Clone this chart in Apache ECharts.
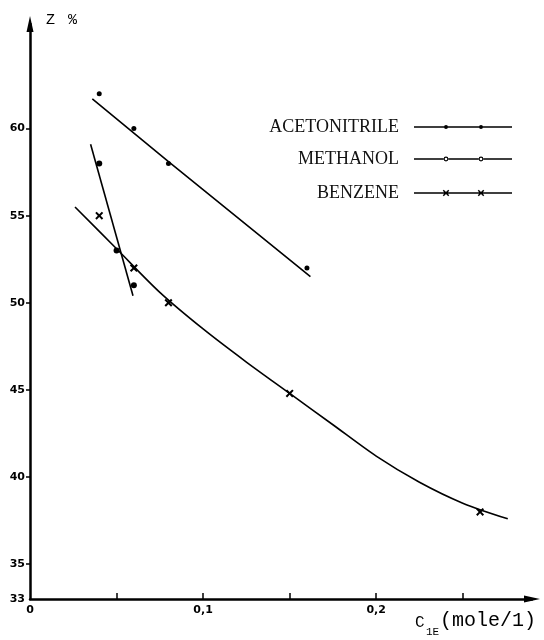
<!DOCTYPE html>
<html>
<head>
<meta charset="utf-8">
<script src="https://cdn.jsdelivr.net/npm/echarts@6/dist/echarts.min.js"></script>
<style>
  html, body { margin: 0; padding: 0; background: #fff; }
  #chart { width: 544px; height: 640px; }
</style>
</head>
<body>
<div id="chart"></div>
<script>
// measured points
const acnX = [0.04, 0.06, 0.08, 0.16]
const acnY = [62, 60, 58, 52]
const meohX = [0.04, 0.05, 0.06]
const meohY = [58, 53, 51]
const bzX = [0.04, 0.06, 0.08, 0.15, 0.26]
const bzY = [55, 52, 50, 44.8, 38]

// hand drawn fit lines
const acnFitX = [0.036, 0.080, 0.162]
const acnFitY = [61.7, 58.1, 51.5]
const meohFitX = [0.035, 0.0595]
const meohFitY = [59.1, 50.4]
const bzFitX = [0.026, 0.05, 0.075, 0.10, 0.125, 0.15, 0.175, 0.20, 0.225, 0.25, 0.276]
const bzFitY = [55.5, 53.1, 50.6, 48.5, 46.6, 44.8, 43.0, 41.2, 39.7, 38.5, 37.6]

// axis ticks
const yLabelValues = [33, 35, 40, 45, 50, 55, 60]
const yTickValues = [35, 40, 45, 50, 55, 60]
const xLabelValues = [0, 0.1, 0.2]
const xLabelTexts = ['0', '0,1', '0,2']
const xTickValues = [0.05, 0.1, 0.15, 0.2, 0.25]

const names = ['ACETONITRILE', 'METHANOL', 'BENZENE']

function pairs(xs, ys) {
  return xs.map((x, i) => [x, ys[i]])
}

// X mark in a 10x10 box, arm offset t, scaled by s and moved
function crossPath(t, s, dx, dy) {
  const pts = [[0, t], [t, 0], [5, 5 - t], [10 - t, 0], [10, t], [5 + t, 5], [10, 10 - t], [10 - t, 10], [5, 5 + t], [t, 10], [0, 10 - t], [5 - t, 5]]
  return 'M' + pts.map(p => (dx + p[0] * s).toFixed(2) + ',' + (dy + p[1] * s).toFixed(2)).join('L') + 'Z'
}
function dot(cx, cy, r, sweep) {
  return 'M' + (cx - r) + ',' + cy + 'A' + r + ',' + r + ',0,1,' + sweep + ',' + (cx + r) + ',' + cy +
    'A' + r + ',' + r + ',0,1,' + sweep + ',' + (cx - r) + ',' + cy + 'Z'
}
function bar(x1, x2) {
  return 'M' + x1 + ',3.2H' + x2 + 'V4.8H' + x1 + 'Z'
}

const crossSymbol = 'path://' + crossPath(1.8, 1, 0, 0)
const legendIcons = [
  'path://' + bar(0, 98) + dot(32, 4, 2, 1) + dot(67, 4, 2, 1),
  'path://' + bar(0, 29.6) + bar(34.4, 64.6) + bar(69.4, 98) +
    dot(32, 4, 2.4, 1) + dot(32, 4, 1.3, 0) + dot(67, 4, 2.4, 1) + dot(67, 4, 1.3, 0),
  'path://' + bar(0, 98) + crossPath(1.6, 0.65, 28.75, 0.75) + crossPath(1.6, 0.65, 63.75, 0.75)
]
const legendTops = [118, 150, 184]

const chart = echarts.init(document.getElementById('chart'))

const lineFit = (name, data, smooth) => ({
  name: name,
  type: 'line',
  data: data,
  symbol: 'none',
  smooth: smooth,
  silent: true,
  lineStyle: { color: '#000', width: 1.6 },
  z: 2
})

chart.setOption({
  animation: false,
  backgroundColor: '#fff',
  grid: { left: 30, right: 12, top: 24, bottom: 41 },
  legend: names.map((n, i) => ({
    data: [{ name: n, icon: legendIcons[i] }],
    right: 32,
    top: legendTops[i],
    align: 'right',
    itemWidth: 98,
    itemHeight: 8,
    padding: 0,
    selectedMode: false,
    textStyle: { fontFamily: 'Liberation Serif', fontSize: 18, color: '#111', padding: [0, 10, 0, 0] }
  })),
  xAxis: {
    type: 'value',
    min: 0,
    max: 0.29,
    splitLine: { show: false },
    axisLine: {
      lineStyle: { color: '#000', width: 2.5 },
      symbol: ['none', 'triangle'],
      symbolSize: [7, 16]
    },
    axisTick: { customValues: xTickValues, inside: true, length: 6, lineStyle: { color: '#000', width: 1.5 } },
    axisLabel: {
      customValues: xLabelValues,
      formatter: v => xLabelTexts[xLabelValues.indexOf(v)],
      margin: 6,
      fontFamily: 'DejaVu Sans',
      fontWeight: 'bold',
      fontSize: 11,
      color: '#000'
    }
  },
  yAxis: {
    type: 'value',
    min: 33,
    max: 66,
    splitLine: { show: false },
    axisLine: {
      lineStyle: { color: '#000', width: 2.5 },
      symbol: ['none', 'triangle'],
      symbolSize: [7, 16]
    },
    axisTick: { customValues: yTickValues, length: 4, lineStyle: { color: '#000', width: 1.5 } },
    axisLabel: {
      customValues: yLabelValues,
      margin: 5,
      fontFamily: 'DejaVu Sans',
      fontWeight: 'bold',
      fontSize: 11,
      color: '#000'
    }
  },
  graphic: [
    { type: 'text', left: 46, top: 13, style: { text: 'Z', font: '15px "Liberation Mono"', fill: '#000' } },
    { type: 'text', left: 68, top: 13, style: { text: '%', font: '15px "Liberation Mono"', fill: '#000' } },
    { type: 'text', left: 415, top: 615, style: { text: 'C', font: '16px "Liberation Mono"', fill: '#000' } },
    { type: 'text', left: 426, top: 627, style: { text: '1E', font: '11px "Liberation Mono"', fill: '#000' } },
    { type: 'text', left: 440, top: 611, style: { text: '(mole/1)', font: '20px "Liberation Mono"', fill: '#000' } }
  ],
  series: [
    lineFit('acn fit', pairs(acnFitX, acnFitY), false),
    lineFit('meoh fit', pairs(meohFitX, meohFitY), false),
    lineFit('bz fit', pairs(bzFitX, bzFitY), 0.3),
    {
      name: names[0],
      type: 'scatter',
      data: pairs(acnX, acnY),
      symbol: 'circle',
      symbolSize: 5,
      itemStyle: { color: '#000', opacity: 1 },
      z: 3
    },
    {
      name: names[1],
      type: 'scatter',
      data: pairs(meohX, meohY),
      symbol: 'circle',
      symbolSize: 6,
      itemStyle: { color: '#000', opacity: 1 },
      z: 3
    },
    {
      name: names[2],
      type: 'scatter',
      data: pairs(bzX, bzY),
      symbol: crossSymbol,
      symbolSize: 8,
      itemStyle: { color: '#000', opacity: 1 },
      z: 3
    }
  ]
})
</script>
</body>
</html>
